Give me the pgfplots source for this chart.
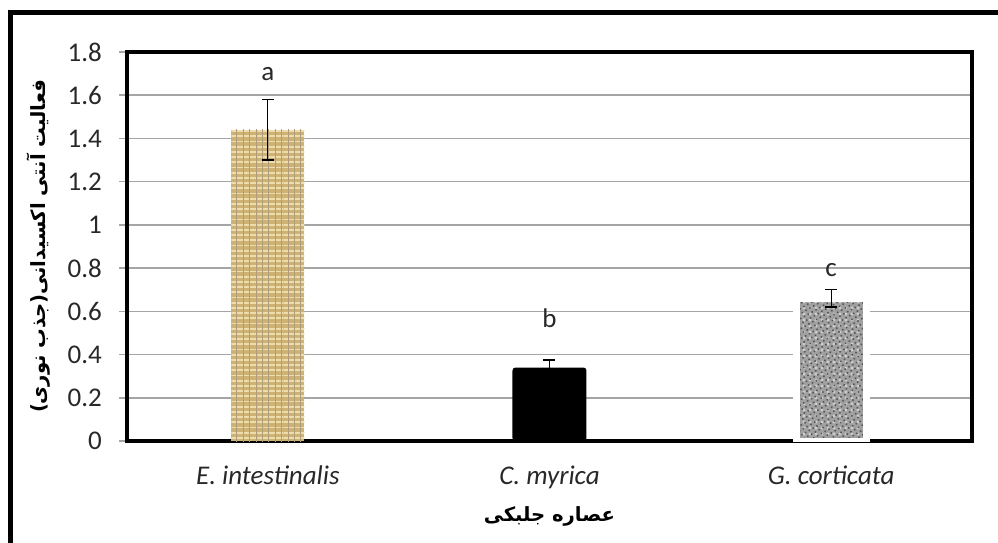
\documentclass[border=0pt]{standalone}
\usepackage{fontspec}
\setmainfont{Carlito}
\newfontfamily\arabicfont[Script=Arabic]{DejaVu Sans}
\TeXXeTstate=1
\usepackage{pgfplots}
\pgfplotsset{compat=1.18}
\usetikzlibrary{patterns,patterns.meta}
\definecolor{gridgray}{RGB}{165,165,165}
\definecolor{burlap}{RGB}{205,178,115}
\definecolor{burlaplight}{RGB}{238,220,170}
\definecolor{burlapdark}{RGB}{120,90,40}
\definecolor{granite}{RGB}{160,160,160}
\definecolor{granitelight}{RGB}{205,205,205}
\definecolor{granitedark}{RGB}{85,85,85}
\definecolor{ticktext}{RGB}{40,40,40}
\begin{document}
\begin{tikzpicture}
\begin{axis}[
  at={(0,0)}, anchor=south west,
  scale only axis, width=422.5pt, height=194.5pt,
  ymin=0, ymax=1.8,
  ytick={0,0.2,0.4,0.6,0.8,1,1.2,1.4,1.6,1.8},
  yticklabels={0,0.2,0.4,0.6,0.8,1,1.2,1.4,1.6,1.8},
  xmin=-0.5, xmax=2.5, xtick={0,1,2},
  xticklabels={\textit{E. intestinalis},\textit{C. myrica},\textit{G. corticata}},
  ymajorgrids, grid style={gridgray, line width=0.8pt},
  axis line style={line width=2pt, black},
  xtick style={draw=none},
  ytick pos=left,
  ytick style={gridgray, line width=0.8pt},
  tick align=outside, major tick length=4pt,
  tick label style={font=\fontsize{13.5}{16}\selectfont, text=ticktext},
  /pgf/number format/assume math mode=true,
  xticklabel style={anchor=base, yshift=-17.5pt},
  yticklabel style={xshift=-5pt},
  xlabel={\arabicfont\bfseries\fontsize{9.8}{12}\selectfont\beginR عصاره جلبکی\endR},
  ylabel={\arabicfont\bfseries\fontsize{9.8}{12}\selectfont\beginR فعالیت آنتی اکسیدانی(جذب نوری)\endR},
  xlabel style={at={(axis description cs:0.5,-0.195)}, anchor=center},
  ylabel style={at={(axis description cs:-0.105,0.5)}, anchor=center},
]
\addplot[ybar, bar width=36.5pt, bar shift=0pt, draw=none, fill=burlap,
  postaction={pattern={Lines[angle=0,distance=2.6pt,line width=0.9pt]}, pattern color=burlaplight},
  postaction={pattern={Lines[angle=90,distance=3.2pt,line width=0.5pt]}, pattern color=burlapdark!60}]
  coordinates {(0,1.44)};
\addplot[ybar, bar width=37pt, bar shift=0pt, draw=none, fill=black, rounded corners=1.5pt]
  coordinates {(1,0.34)};
\addplot[ybar, bar width=35pt, bar shift=0pt, draw=white, line width=3.5pt, fill=granite,
  postaction={pattern={Dots[distance=3pt,radius=0.8pt]}, pattern color=granitelight},
  postaction={pattern={Dots[distance=2.2pt,radius=0.55pt,angle=30]}, pattern color=granitedark}]
  coordinates {(2,0.66)};
\addplot[draw=none, mark=none, forget plot,
  error bars/.cd, y dir=both, y explicit, error mark=-,
  error bar style={draw=black, line width=0.6pt},
  error mark options={draw=black, line width=0.6pt, mark size=3pt, rotate=90}]
  coordinates {(0,1.44) +- (0,0.14) (1,0.345) +- (0,0.03) (2,0.66) +- (0,0.04)};
\node[font=\fontsize{13.5}{16}\selectfont, text=ticktext] at (axis cs:0,1.70) {a};
\node[font=\fontsize{13.5}{16}\selectfont, text=ticktext] at (axis cs:1,0.57) {b};
\node[font=\fontsize{13.5}{16}\selectfont, text=ticktext] at (axis cs:2,0.79) {c};
\end{axis}
\draw[line width=2.5pt, black] (-58pt,-60pt) -- (-58pt,214pt) -- (445pt,214pt);
\pgfresetboundingbox
\path[use as bounding box] (-63.5pt,-50.5pt) rectangle (435.5pt,220.5pt);
\end{tikzpicture}
\end{document}
